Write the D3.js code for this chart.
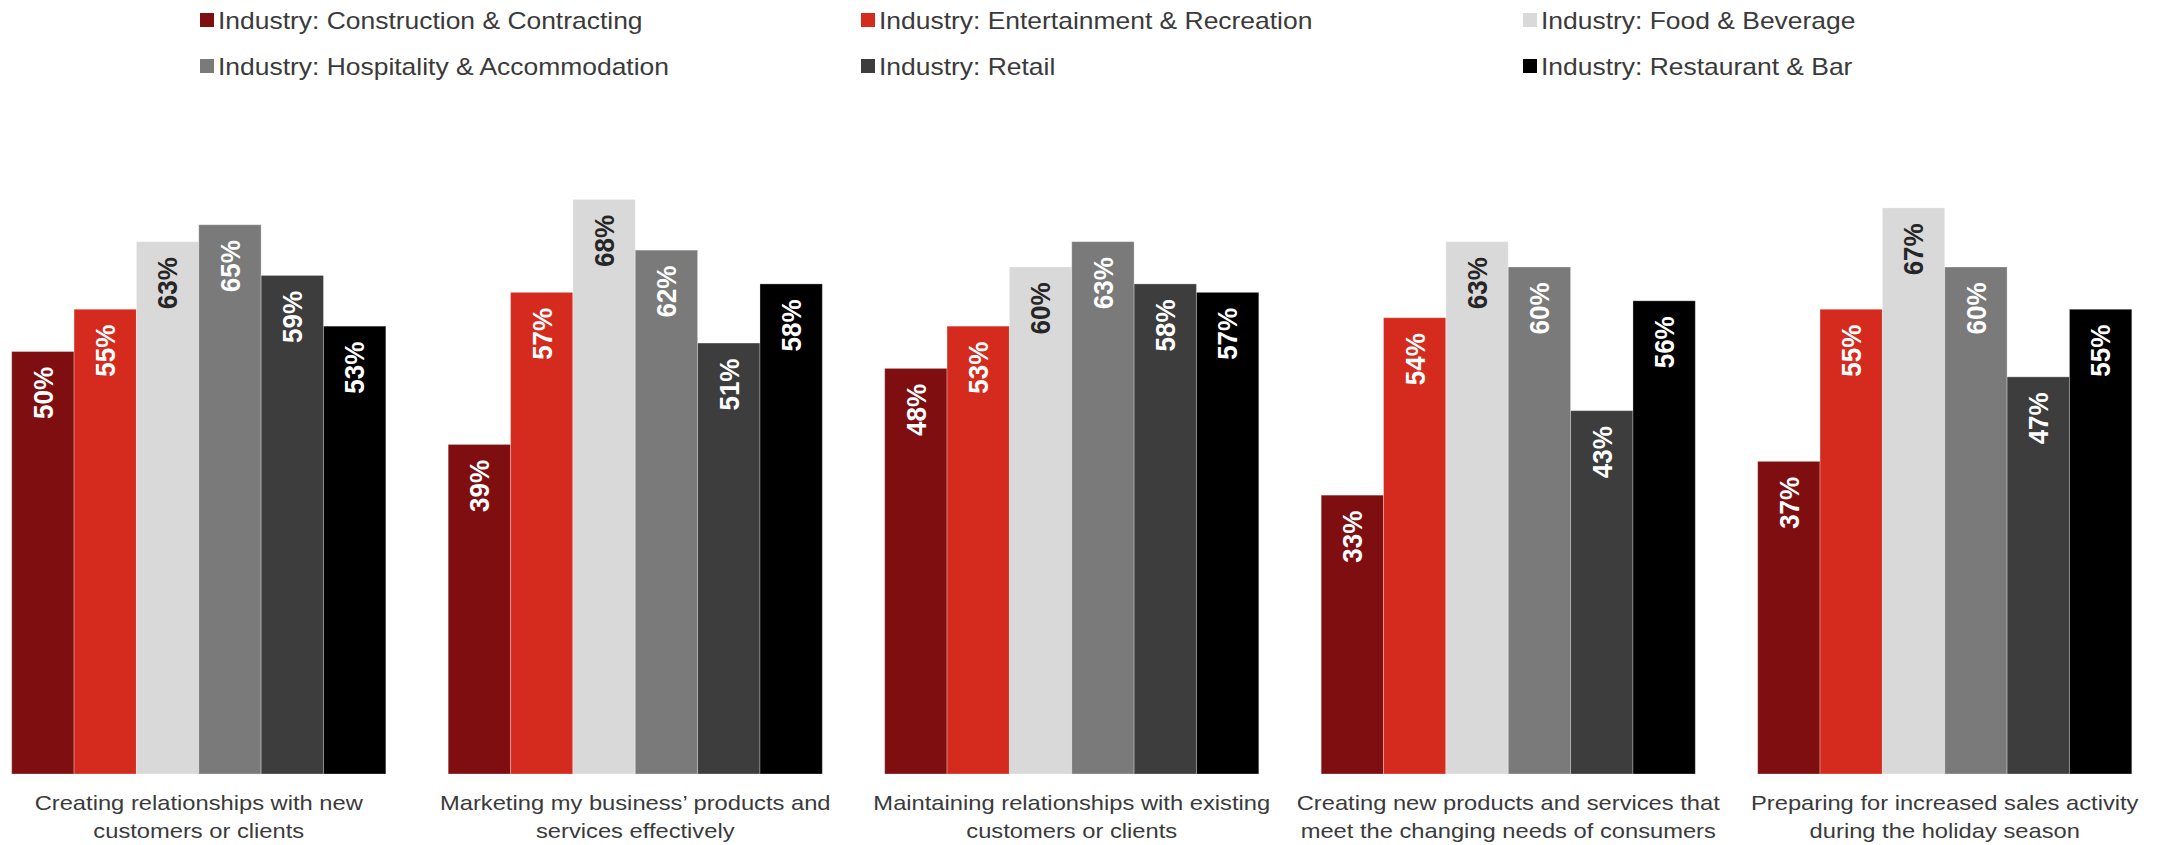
<!DOCTYPE html>
<html>
<head>
<meta charset="utf-8">
<script src="https://cdn.jsdelivr.net/npm/d3@7"></script>
<style>
  html, body { margin: 0; padding: 0; background: #ffffff; }
  svg { display: block; }
</style>
</head>
<body>
<svg id="chart" width="2169" height="845"></svg>
<script>
// Survey categories (each split into its two printed lines)
const categories = [
  "Creating relationships with new customers or clients",
  "Marketing my business’ products and services effectively",
  "Maintaining relationships with existing customers or clients",
  "Creating new products and services that meet the changing needs of consumers",
  "Preparing for increased sales activity during the holiday season"
];
const categoryLines = [
  ["Creating relationships with new", "customers or clients"],
  ["Marketing my business’ products and", "services effectively"],
  ["Maintaining relationships with existing", "customers or clients"],
  ["Creating new products and services that", "meet the changing needs of consumers"],
  ["Preparing for increased sales activity", "during the holiday season"]
];

// Industries (series)
const seriesNames = [
  "Industry: Construction & Contracting",
  "Industry: Entertainment & Recreation",
  "Industry: Food & Beverage",
  "Industry: Hospitality & Accommodation",
  "Industry: Retail",
  "Industry: Restaurant & Bar"
];
const seriesColors = ["#7f0e11", "#d52b1e", "#d9d9d9", "#7a7a7a", "#3d3d3d", "#000000"];
const labelColors  = ["#ffffff", "#ffffff", "#262626", "#ffffff", "#ffffff", "#ffffff"];

// Percent of respondents, one array per industry, in category order
const construction  = [50, 39, 48, 33, 37];
const entertainment = [55, 57, 53, 54, 55];
const foodBeverage  = [63, 68, 60, 63, 67];
const hospitality   = [65, 62, 63, 60, 60];
const retail        = [59, 51, 58, 43, 47];
const restaurantBar = [53, 58, 57, 56, 55];
const seriesValues = [construction, entertainment, foodBeverage, hospitality, retail, restaurantBar];

const svg = d3.select("#chart");
const baseline = 774;
const stretch = 1.13; // horizontal glyph widening used for all text

const x0 = d3.scaleBand()
  .domain(categories)
  .range([11.7, 2131.8])
  .paddingInner(1 / 7)
  .paddingOuter(0);

const x1 = d3.scaleBand()
  .domain(seriesNames)
  .range([0, x0.bandwidth()])
  .padding(0);

const y = d3.scaleLinear()
  .domain([0, 100])
  .range([baseline, baseline - 845]);

// Bars
const groups = svg.append("g").selectAll("g.group")
  .data(categories)
  .join("g")
  .attr("class", "group")
  .attr("transform", d => `translate(${x0(d)},0)`);

groups.each(function (cat, ci) {
  const g = d3.select(this);
  const rows = seriesNames.map((s, si) => ({ s, si, v: seriesValues[si][ci] }));

  g.selectAll("rect")
    .data(rows)
    .join("rect")
    .attr("x", d => x1(d.s))
    .attr("y", d => y(d.v))
    .attr("width", x1.bandwidth())
    .attr("height", d => y(0) - y(d.v))
    .attr("fill", d => seriesColors[d.si])
    .attr("stroke", "#ffffff")
    .attr("stroke-opacity", 0.3)
    .attr("stroke-width", 1);

  // Rotated value labels near the top of each bar
  g.selectAll("text.value")
    .data(rows)
    .join("text")
    .attr("class", "value")
    .attr("transform", d =>
      `translate(${x1(d.s) + x1.bandwidth() / 2},${y(d.v) + 15.5}) scale(1.08,1) rotate(-90)`)
    .attr("text-anchor", "end")
    .attr("dy", "0.35em")
    .attr("font-family", "'Liberation Sans', Arial, sans-serif")
    .attr("font-weight", "bold")
    .attr("font-size", 26)
    .attr("fill", d => labelColors[d.si])
    .text(d => d.v + "%");
});

// Category labels under each group
const catLabels = svg.append("g").selectAll("g.cat")
  .data(categories)
  .join("g")
  .attr("class", "cat")
  .attr("transform", d => `translate(${x0(d) + x0.bandwidth() / 2},0)`);

catLabels.each(function (cat, ci) {
  d3.select(this).selectAll("text")
    .data(categoryLines[ci])
    .join("text")
    .attr("transform", (d, i) => `translate(0,${810 + i * 28}) scale(${stretch},1)`)
    .attr("text-anchor", "middle")
    .attr("font-family", "'Liberation Sans', Arial, sans-serif")
    .attr("font-size", 21)
    .attr("fill", "#3a3a3a")
    .text(d => d);
});

// Legend: three columns, two rows
const legendCols = [200, 861, 1523];
const legendRows = [13, 59];
const legend = svg.append("g").selectAll("g.item")
  .data(seriesNames)
  .join("g")
  .attr("class", "item")
  .attr("transform", (d, i) => `translate(${legendCols[i % 3]},${legendRows[Math.floor(i / 3)]})`);

legend.append("rect")
  .attr("width", 14)
  .attr("height", 14)
  .attr("fill", (d, i) => seriesColors[i]);

legend.append("text")
  .attr("transform", `translate(18,16) scale(1.15,1)`)
  .attr("font-family", "'Liberation Sans', Arial, sans-serif")
  .attr("font-size", 23)
  .attr("fill", "#3a3a3a")
  .text(d => d);
</script>
</body>
</html>
